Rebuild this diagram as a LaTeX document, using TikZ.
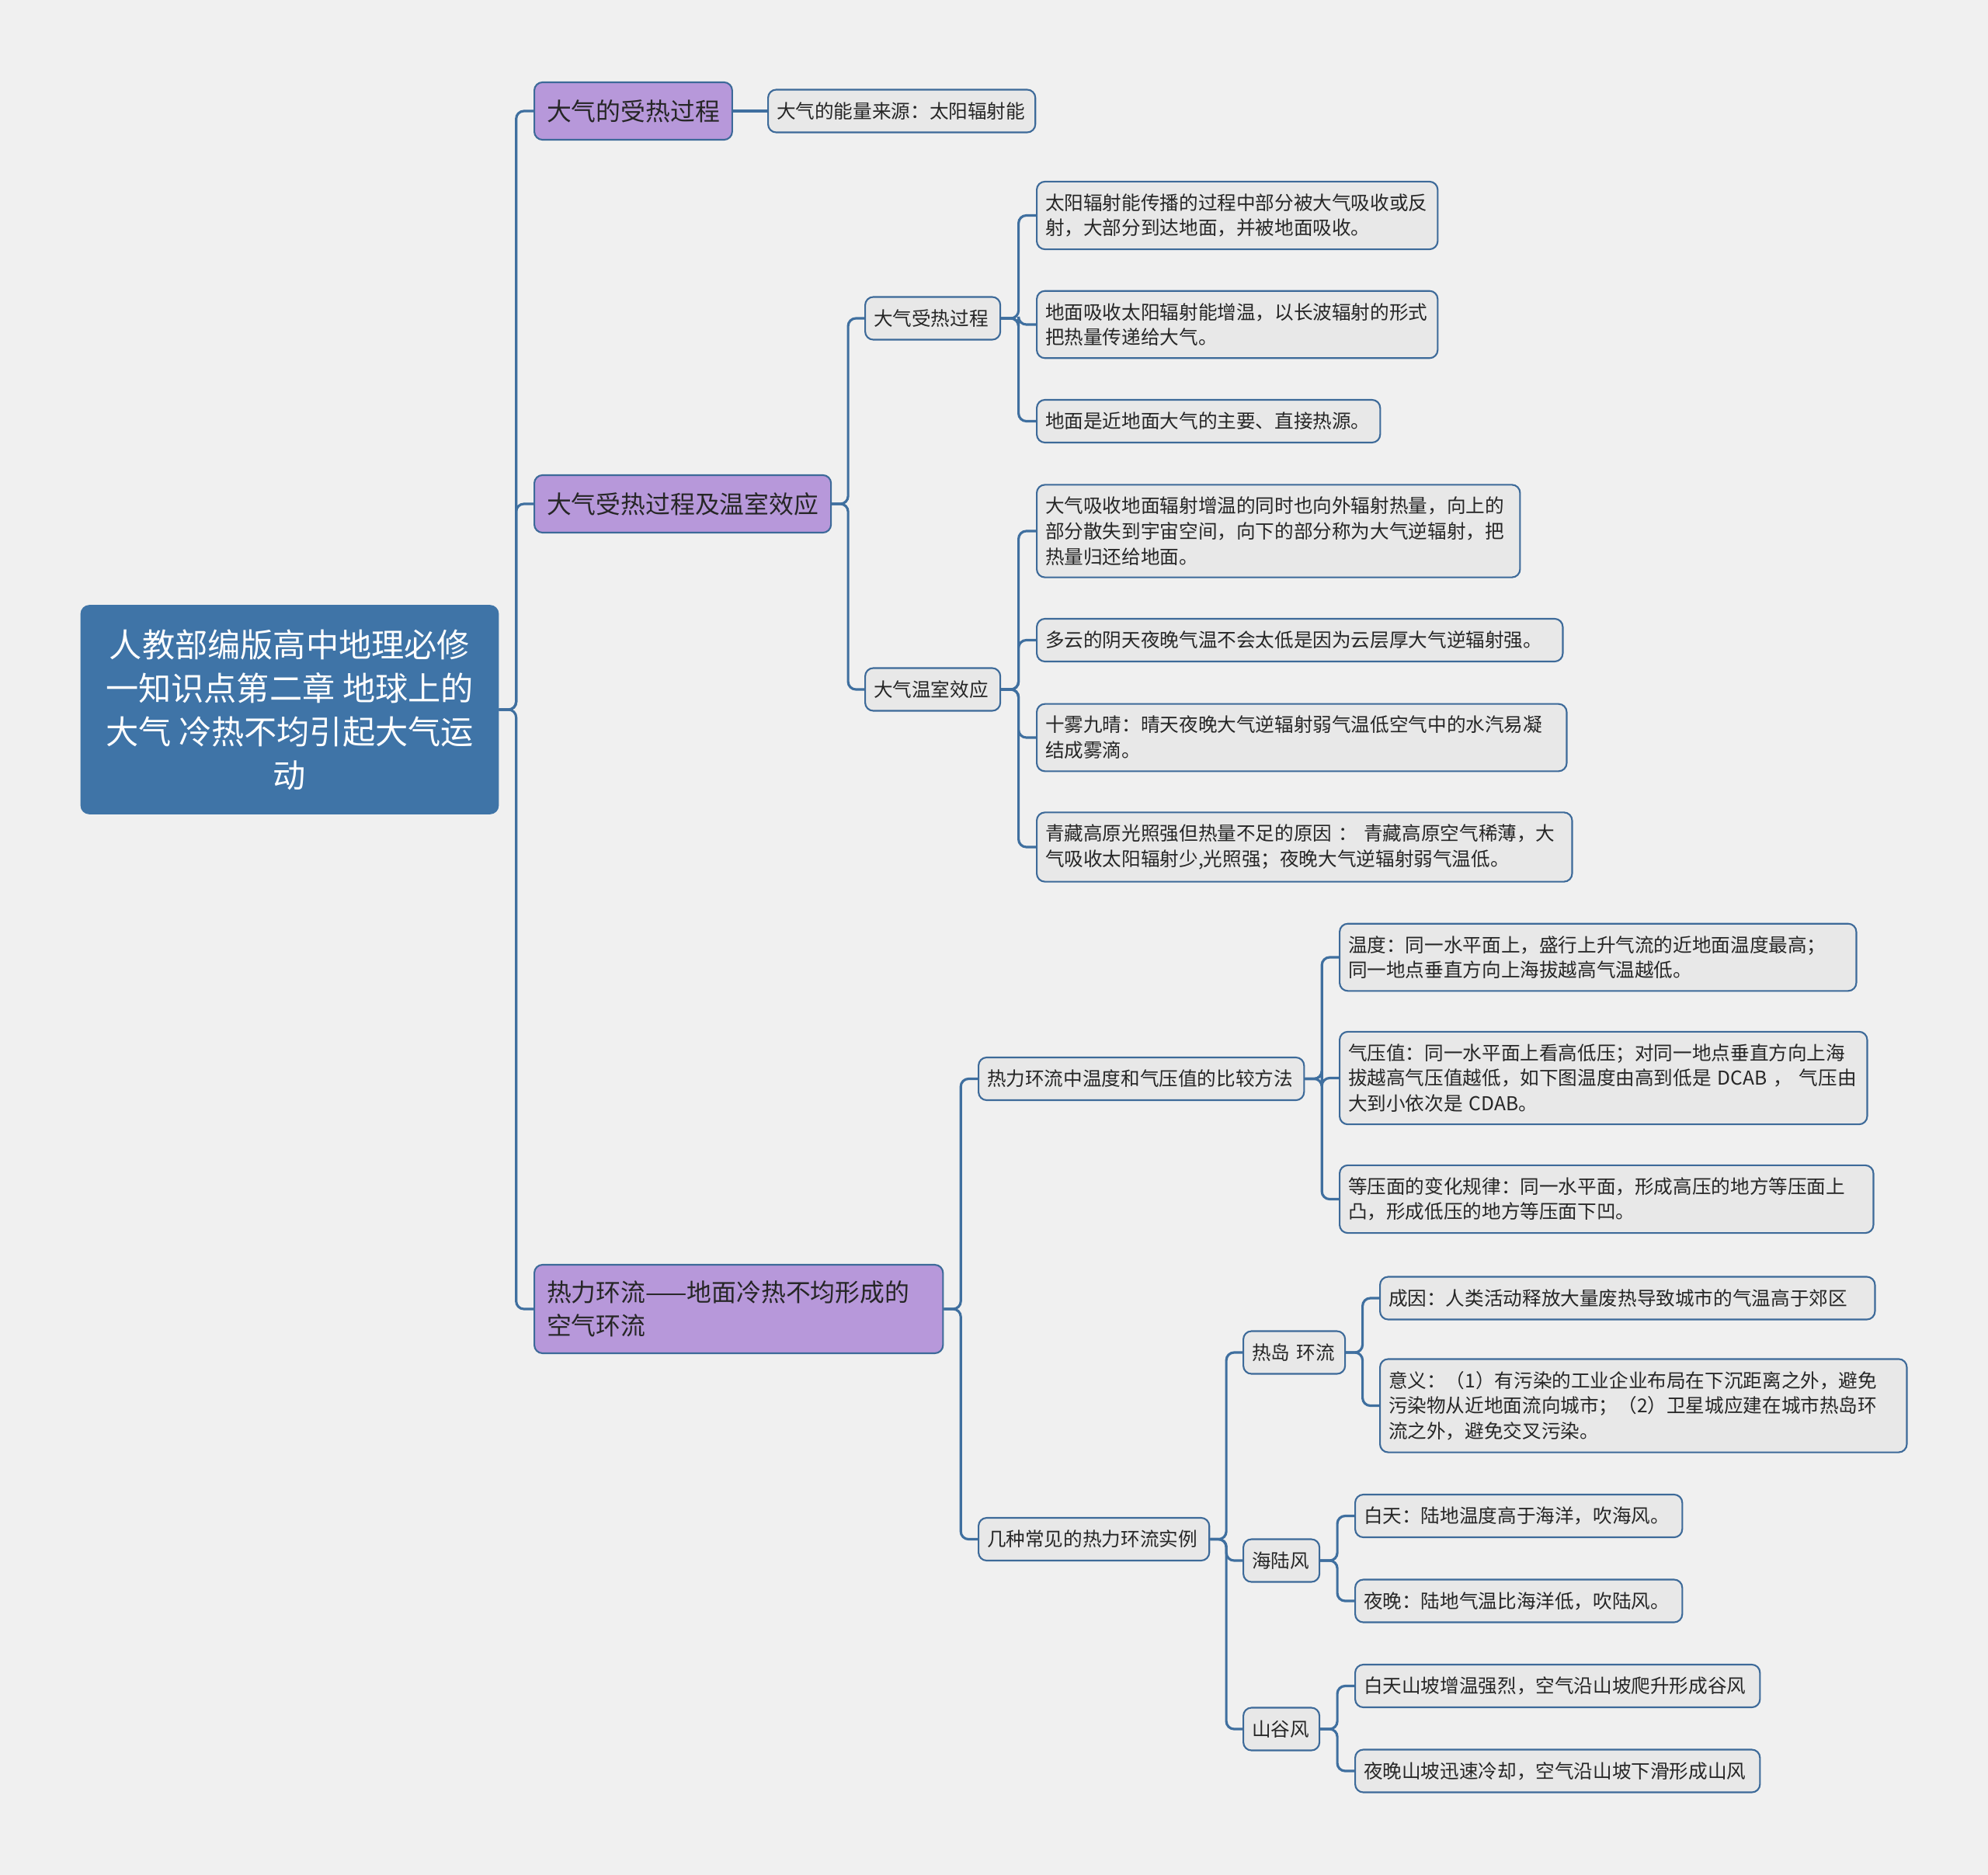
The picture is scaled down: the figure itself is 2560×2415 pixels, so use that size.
\documentclass[tikz,border=0pt]{standalone}
\usepackage{fontspec}
\setmainfont{Noto Sans CJK SC}
\usetikzlibrary{calc}
\definecolor{bgcol}{HTML}{F0F0F0}
\definecolor{rootblue}{HTML}{3F74A7}
\definecolor{edgeblue}{HTML}{3D6A99}
\definecolor{linkblue}{HTML}{3F6F9F}
\definecolor{mainpurple}{HTML}{B798DA}
\definecolor{leafgray}{HTML}{E8E8E8}
\definecolor{textgray}{HTML}{262626}

\begin{document}
\begin{tikzpicture}[x=0.01cm, y=-0.01cm,
    rootbox/.style={rectangle, draw=rootblue, fill=rootblue, rounded corners=3pt, text=white, align=center, minimum width=5.37cm, minimum height=2.68cm, font=\fontsize{12}{15.9}\selectfont},
    mainbox/.style={rectangle, draw=edgeblue, fill=mainpurple, line width=0.6pt, rounded corners=3pt, align=left, anchor=west, inner xsep=0.16cm, inner ysep=0.21cm, minimum height=0.74cm, text=textgray, font=\fontsize{9.05}{12.1}\selectfont},
    leafbox/.style={rectangle, draw=edgeblue, fill=leafgray, line width=0.6pt, rounded corners=3pt, align=left, anchor=west, inner xsep=0.11cm, inner ysep=0.155cm, minimum height=0.55cm, text=textgray, font=\fontsize{7}{9.3}\selectfont, text width=#1},
    link/.style={draw=linkblue, line width=0.9pt, rounded corners=0.1cm},
    elbow/.style={to path={-- ($(\tikztostart)!0.5!(\tikztostart -| \tikztotarget)$) |- (\tikztotarget)}}
]
\fill [bgcol] (0,0) rectangle (2560,2415);
\useasboundingbox (0,0) rectangle (2560,2415);

\node (root) [rootbox] at (373,914) {人教部编版高中地理必修\\一知识点第二章 地球上的\\大气 冷热不均引起大气运\\动};

\node (heatproc) [mainbox] at (687,143) {大气的受热过程};
\node (heatgreen) [mainbox] at (687,649) {大气受热过程及温室效应};
\node (circ) [mainbox, text width=4.94cm] at (687,1686) {热力环流——地面冷热不均形成的\\空气环流};

\node (energy) [leafbox=3.22cm] at (988,143) {大气的能量来源：太阳辐射能};

\node (proc) [leafbox=1.52cm] at (1113,410) {大气受热过程};
\node (green) [leafbox=1.52cm] at (1113,888) {大气温室效应};
\node (proc1) [leafbox=4.94cm] at (1334,277.5) {太阳辐射能传播的过程中部分被大气吸收或反\\射，大部分到达地面，并被地面吸收。};
\node (proc2) [leafbox=4.94cm] at (1334,418) {地面吸收太阳辐射能增温，以长波辐射的形式\\把热量传递给大气。};
\node (proc3) [leafbox=4.2cm] at (1334,542.5) {地面是近地面大气的主要、直接热源。};
\node (green1) [leafbox=6cm] at (1334,684) {大气吸收地面辐射增温的同时也向外辐射热量，向上的\\部分散失到宇宙空间，向下的部分称为大气逆辐射，把\\热量归还给地面。};
\node (green2) [leafbox=6.55cm] at (1334,824.5) {多云的阴天夜晚气温不会太低是因为云层厚大气逆辐射强。};
\node (green3) [leafbox=6.6cm] at (1334,950) {十雾九晴：晴天夜晚大气逆辐射弱气温低空气中的水汽易凝\\结成雾滴。};
\node (green4) [leafbox=6.67cm] at (1334,1091) {青藏高原光照强但热量不足的原因~：~青藏高原空气稀薄，大\\气吸收太阳辐射少,光照强；夜晚大气逆辐射弱气温低。};

\node (compare) [leafbox=3.97cm] at (1259,1389.5) {热力环流中温度和气压值的比较方法};
\node (examples) [leafbox=2.75cm] at (1259,1982.5) {几种常见的热力环流实例};
\node (compare1) [leafbox=6.43cm] at (1724,1233) {温度：同一水平面上，盛行上升气流的近地面温度最高；\\同一地点垂直方向上海拔越高气温越低。};
\node (compare2) [leafbox=6.57cm] at (1724,1388.5) {气压值：同一水平面上看高低压；对同一地点垂直方向上海\\拔越高气压值越低，如下图温度由高到低是~DCAB~，~气压由\\大到小依次是~CDAB。};
\node (compare3) [leafbox=6.65cm] at (1724,1544.5) {等压面的变化规律：同一水平面，形成高压的地方等压面上\\凸，形成低压的地方等压面下凹。};

\node (island) [leafbox=1.09cm] at (1600,1742) {热岛~环流};
\node (sealand) [leafbox=0.76cm] at (1600,2010) {海陆风};
\node (valley) [leafbox=0.76cm] at (1600,2227) {山谷风};
\node (island1) [leafbox=6.15cm] at (1776,1672) {成因：人类活动释放大量废热导致城市的气温高于郊区};
\node (island2) [leafbox=6.56cm] at (1776,1810.5) {意义：（1）有污染的工业企业布局在下沉距离之外，避免\\污染物从近地面流向城市；（2）卫星城应建在城市热岛环\\流之外，避免交叉污染。};
\node (sealand1) [leafbox=3.99cm] at (1744,1952.5) {白天：陆地温度高于海洋，吹海风。};
\node (sealand2) [leafbox=3.99cm] at (1744,2062) {夜晚：陆地气温比海洋低，吹陆风。};
\node (valley1) [leafbox=4.99cm] at (1744,2171.5) {白天山坡增温强烈，空气沿山坡爬升形成谷风};
\node (valley2) [leafbox=4.99cm] at (1744,2281) {夜晚山坡迅速冷却，空气沿山坡下滑形成山风};

\foreach \c in {heatproc,heatgreen,circ} \draw [link] (root.east) to[elbow] (\c.west);
\draw [link] (heatproc.east) -- (energy.west);
\foreach \c in {proc,green} \draw [link] (heatgreen.east) to[elbow] (\c.west);
\foreach \c in {proc1,proc2,proc3} \draw [link] (proc.east) to[elbow] (\c.west);
\foreach \c in {green1,green2,green3,green4} \draw [link] (green.east) to[elbow] (\c.west);
\foreach \c in {compare,examples} \draw [link] (circ.east) to[elbow] (\c.west);
\foreach \c in {compare1,compare2,compare3} \draw [link] (compare.east) to[elbow] (\c.west);
\foreach \c in {island,sealand,valley} \draw [link] (examples.east) to[elbow] (\c.west);
\foreach \c in {island1,island2} \draw [link] (island.east) to[elbow] (\c.west);
\foreach \c in {sealand1,sealand2} \draw [link] (sealand.east) to[elbow] (\c.west);
\foreach \c in {valley1,valley2} \draw [link] (valley.east) to[elbow] (\c.west);

\end{tikzpicture}
\end{document}
